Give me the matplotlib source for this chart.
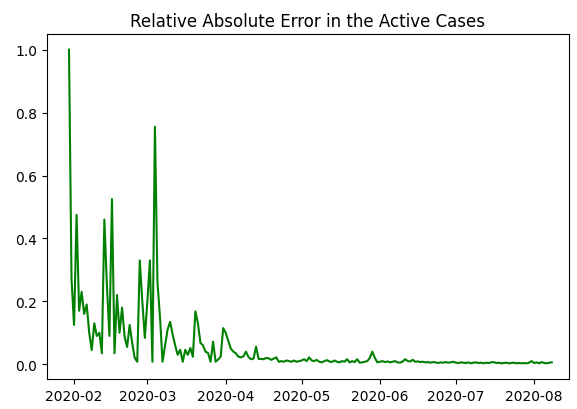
import matplotlib
matplotlib.use("Agg")
import matplotlib.pyplot as plt
import matplotlib.dates as mdates
import pandas as pd

# Daily relative absolute error of the predicted active cases
start_date = "2020-01-30"
rel_abs_error = [
    # Jan 30 - Feb 18
    1.0, 0.27, 0.125, 0.475, 0.17, 0.23, 0.16, 0.19, 0.10, 0.045,
    0.13, 0.09, 0.10, 0.035, 0.46, 0.25, 0.09, 0.525, 0.035, 0.22,
    # Feb 19 - Mar 12
    0.10, 0.18, 0.087, 0.055, 0.125, 0.068, 0.02, 0.008, 0.33, 0.20,
    0.084, 0.20, 0.33, 0.008, 0.755, 0.26, 0.15, 0.008, 0.06, 0.11,
    0.135, 0.095, 0.06,
    # Mar 13 - Apr 5
    0.03, 0.046, 0.008, 0.046, 0.03, 0.052, 0.024, 0.168, 0.13, 0.068,
    0.06, 0.04, 0.036, 0.008, 0.072, 0.008, 0.015, 0.024, 0.115, 0.10,
    0.075, 0.05, 0.04, 0.035, 0.024,
    # Apr 6 - May 3
    0.022, 0.025, 0.04, 0.023, 0.016, 0.018, 0.056, 0.017, 0.017, 0.016,
    0.02, 0.019, 0.014, 0.018, 0.022, 0.008, 0.01, 0.008, 0.012, 0.01,
    0.008, 0.012, 0.008, 0.01, 0.012, 0.016, 0.01,
    # May 4 - Jun 1
    0.022, 0.012, 0.01, 0.014, 0.008, 0.006, 0.01, 0.013, 0.009, 0.007,
    0.012, 0.008, 0.006, 0.01, 0.008, 0.016, 0.006, 0.01, 0.007, 0.016,
    0.005, 0.006, 0.008, 0.01, 0.02, 0.04, 0.02, 0.006, 0.008,
    # Jun 2 - Jul 1
    0.01, 0.007, 0.009, 0.006, 0.008, 0.01, 0.006, 0.005, 0.009, 0.016,
    0.01, 0.009, 0.014, 0.008, 0.009, 0.007, 0.008, 0.006, 0.007, 0.005,
    0.007, 0.006, 0.004, 0.006, 0.005, 0.007, 0.005, 0.006, 0.008, 0.005,
    # Jul 2 - Aug 8
    0.004, 0.006, 0.005, 0.004, 0.006, 0.003, 0.005, 0.006, 0.004, 0.005,
    0.003, 0.005, 0.004, 0.006, 0.007, 0.004, 0.005, 0.003, 0.004, 0.005,
    0.003, 0.004, 0.005, 0.003, 0.004, 0.003, 0.004, 0.003, 0.005, 0.01,
    0.004, 0.006, 0.003, 0.007, 0.004, 0.003, 0.005, 0.006,
]
dates = pd.date_range(start_date, periods=len(rel_abs_error), freq="D")

fig = plt.figure(figsize=(5.77, 4.10), dpi=100)
ax = fig.add_axes([47 / 577, 1 - 380 / 410, (569 - 47) / 577, (380 - 35) / 410])
ax.plot(dates, rel_abs_error, color="green", linewidth=1.5)
ax.set_title("Relative Absolute Error in the Active Cases", fontsize=12)

ax.xaxis.set_major_locator(mdates.MonthLocator())
ax.xaxis.set_major_formatter(mdates.DateFormatter("%Y-%m"))
month_start = pd.Timestamp("2020-02-01")
ax.set_xlim(month_start - pd.Timedelta(days=10.7), month_start + pd.Timedelta(days=195.8))
ax.set_yticks([0.0, 0.2, 0.4, 0.6, 0.8, 1.0])

fig.savefig("out.png", dpi=100)
